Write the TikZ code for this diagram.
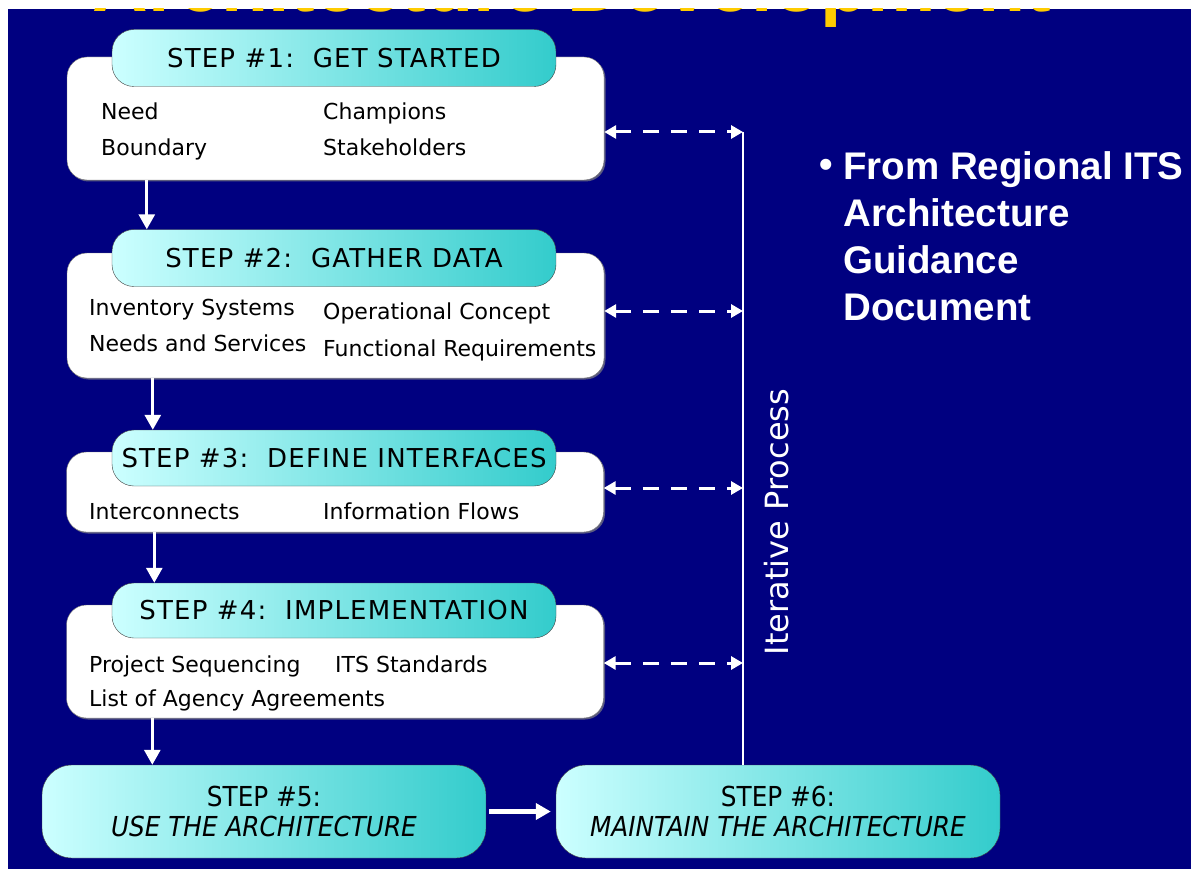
\documentclass[tikz,border=0pt]{standalone}
\usepackage{fontspec}
\setmainfont{DejaVu Sans}
\newfontfamily\condfont{DejaVu Sans Condensed}
\newfontfamily\arialfont{Liberation Sans}
\usetikzlibrary{arrows.meta,shadows}
\definecolor{bgnavy}{RGB}{0,0,128}
\definecolor{headleft}{RGB}{204,255,255}
\definecolor{headright}{RGB}{51,204,204}
\definecolor{titleyellow}{RGB}{255,204,0}

\begin{document}
\begin{tikzpicture}[x=1pt,y=-1pt,
  stepbox/.style={draw=black!55, fill=white, rounded corners=20pt, minimum width=537pt, inner sep=0pt,
    drop shadow={shadow xshift=1.5pt, shadow yshift=-1.5pt, opacity=0.7}},
  stephead/.style={draw=black!75, left color=headleft, right color=headright, rounded corners=22pt,
    minimum width=444pt, minimum height=57pt, inner sep=0pt,
    font=\fontsize{26}{30}\selectfont\addfontfeature{LetterSpace=4.5}},
  stepitem/.style={anchor=base west, inner sep=0pt, font=\fontsize{22}{24}\selectfont},
  steparrow/.style={white, line width=3pt, -{Triangle[length=15pt,width=16pt]}},
  iterarrow/.style={white, line width=3pt, dash pattern=on 16pt off 12pt,
    {Triangle[length=12pt,width=13pt]}-{Triangle[length=12pt,width=13pt]}}]

\useasboundingbox (0,0) rectangle (1191,869);
\fill[white] (0,0) rectangle (1191,869);
\fill[bgnavy] (8,9) rectangle (1191,869);
\begin{scope}
\clip (8,9) rectangle (1191,869);
\node[anchor=base, inner sep=0pt, text=titleyellow, font=\arialfont\bfseries\fontsize{77}{80}\selectfont] (title) at (572,12) {Architecture Development};
\end{scope}

\node[stepbox, minimum height=123pt] (box1) at (335.5,118.5) {};
\node[stephead] (head1) at (334,58) {STEP \#1:\ \ GET STARTED};
\node[stepitem] (need) at (101,120) {Need};
\node[stepitem] (champions) at (323,120) {Champions};
\node[stepitem] (boundary) at (101,156) {Boundary};
\node[stepitem] (stakeholders) at (323,156) {Stakeholders};

\node[stepbox, minimum height=125pt] (box2) at (335.5,315.5) {};
\node[stephead] (head2) at (334,258) {STEP \#2:\ \ GATHER DATA};
\node[stepitem] (inventory) at (89,315) {Inventory Systems};
\node[stepitem] (opconcept) at (323,319) {Operational Concept};
\node[stepitem] (needsserv) at (89,351) {Needs and Services};
\node[stepitem] (funcreq) at (323,356) {Functional Requirements};

\node[stepbox, minimum height=80pt] (box3) at (335,492) {};
\node[stephead, minimum height=56pt] (head3) at (334,458) {STEP \#3:\ \ DEFINE INTERFACES};
\node[stepitem] (interconn) at (89,519) {Interconnects};
\node[stepitem] (infoflows) at (323,519) {Information Flows};

\node[stepbox, minimum height=113pt] (box4) at (335,661.5) {};
\node[stephead, minimum height=55pt] (head4) at (334,610.5) {STEP \#4:\ \ IMPLEMENTATION};
\node[stepitem] (sequencing) at (89,672) {Project Sequencing};
\node[stepitem] (standards) at (335,672) {ITS Standards};
\node[stepitem] (agreements) at (89,706) {List of Agency Agreements};

\node[stephead, minimum height=93pt, rounded corners=30pt, align=center, font=\condfont\fontsize{27.5}{30}\selectfont] (box5) at (264,811.5) {STEP \#5:\\\textit{USE THE ARCHITECTURE}};
\node[stephead, minimum height=93pt, rounded corners=30pt, align=center, font=\condfont\fontsize{27.5}{30}\selectfont] (box6) at (778,811.5) {STEP \#6:\\\textit{MAINTAIN THE ARCHITECTURE}};

\draw[steparrow] ([xshift=80pt]box1.south west) -- ([xshift=80pt]box1.south west |- head2.north);
\draw[steparrow] ([xshift=86pt]box2.south west) -- ([xshift=86pt]box2.south west |- head3.north);
\draw[steparrow] ([xshift=88pt]box3.south west) -- ([xshift=88pt]box3.south west |- head4.north);
\draw[steparrow] ([xshift=86pt]box4.south west) -- ([xshift=86pt]box4.south west |- box5.north);
\draw[steparrow, line width=5pt, shorten <=3pt, shorten >=5pt] (box5) -- (box6);

\coordinate (railtop) at (743,132);
\draw[white, line width=2.5pt] (railtop) -- (railtop |- box6.north);
\node[rotate=90, text=white, font=\fontsize{32}{34}\selectfont] (iterative) at (777,522) {Iterative Process};
\foreach \b/\s in {box1/-13.5,box2/4.5,box3/4,box4/-1.5}
  \draw[iterarrow] ([yshift=\s pt]\b.east) -- ([yshift=\s pt]\b.east -| railtop);

\node[anchor=north west, align=left, inner sep=0pt, text=white, font=\arialfont\bfseries\fontsize{38.5}{47}\selectfont] (source) at (843,151) {From Regional ITS\\Architecture\\Guidance\\Document};
\node[anchor=north east, inner sep=0pt, text=white, font=\arialfont\bfseries\fontsize{38.5}{47}\selectfont] (bullet) at ([xshift=-10pt]source.north west) {\vphantom{F}\textbullet};
\end{tikzpicture}
\end{document}
